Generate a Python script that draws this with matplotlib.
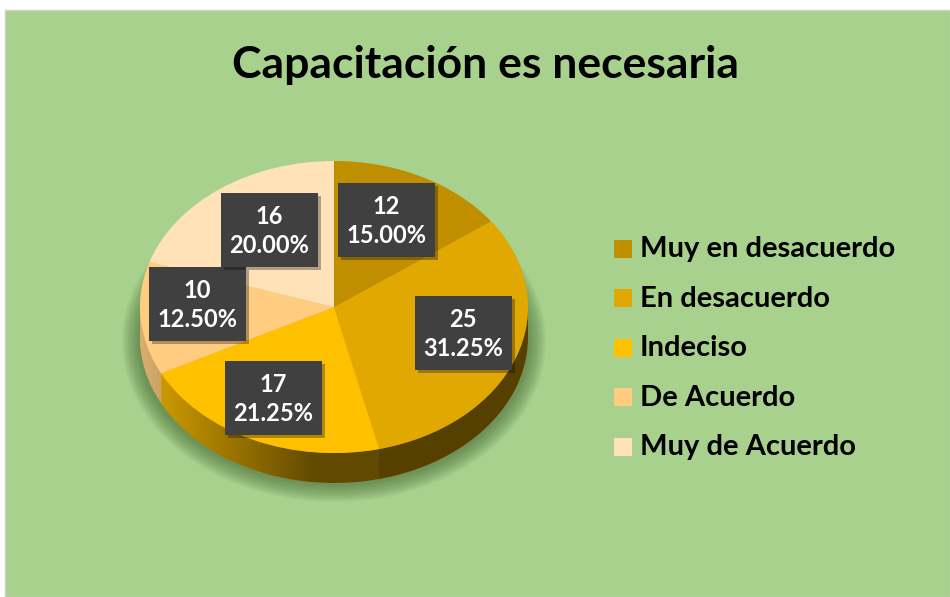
import numpy as np, matplotlib
matplotlib.use('Agg')
import matplotlib.pyplot as plt
from matplotlib.patches import Rectangle, Ellipse, Polygon
from matplotlib.colors import to_rgb

plt.rcParams.update({'font.family': ['Lato', 'DejaVu Sans'], 'font.weight': 'bold'})

title = 'Capacitación es necesaria'
categories = ['Muy en desacuerdo', 'En desacuerdo', 'Indeciso', 'De Acuerdo', 'Muy de Acuerdo']
counts = [12, 25, 17, 10, 16]
colors = ['#BF8F00', '#E0A800', '#FFC000', '#FFCC80', '#FFE2B8']

# layout (pixels)
label_xy = [(386, 220), (463, 333), (273, 398), (197, 304), (269, 230)]
W, H = 950, 597
BG = '#A9D18E'
cx, cy, rx, ry, depth = 334, 307, 194, 146, 30

fig = plt.figure(figsize=(W/100, H/100), dpi=100, facecolor='white')

def px_axes(x0, y0, x1, y1, z):
    return fig.add_axes([x0/W, 1-y1/H, (x1-x0)/W, (y1-y0)/H], zorder=z)

bg = px_axes(0, 0, W, H, 0)
bg.set_xlim(0, W); bg.set_ylim(H, 0); bg.axis('off')
bg.add_patch(Rectangle((5, 10), W-5, H-10, facecolor=BG, edgecolor='#D0D0D0', lw=1))
# soft shadow under the pie
for k in range(12):
    bg.add_patch(Ellipse((cx, cy+depth+4), 2*rx+36-k*3, 2*ry+30-k*3,
                         color='#3f5f2a', alpha=0.06, lw=0))

# pie: side made of stacked layers, then the top face
pa = px_axes(cx-rx, cy-ry, cx+rx, cy+ry+depth, 1)
dd = depth/ry
side = [tuple(np.array(to_rgb(c))*0.85) for c in colors]
for k in range(depth, 0, -1):
    pa.pie(counts, colors=side, startangle=90, counterclock=False,
           center=(0, -k/ry), wedgeprops=dict(lw=0, zorder=1))

t = np.linspace(np.pi, 2*np.pi, 200)
band = np.r_[np.c_[np.cos(t), np.sin(t)], np.c_[np.cos(t[::-1]), np.sin(t[::-1])-dd]]
clip = Polygon(band, closed=True, transform=pa.transData, fc='none', ec='none')
pa.add_patch(clip)
shade = np.zeros((1, 256, 4))
shade[..., 3] = np.clip((np.linspace(-1, 1, 256)+1)/0.9, 0, 1)*0.55
im = pa.imshow(shade, extent=(-1, 1, -1-dd, 0.1), aspect='auto', zorder=2, interpolation='bilinear')
im.set_clip_path(clip)

wedges, _ = pa.pie(counts, colors=colors, startangle=90, counterclock=False,
                   wedgeprops=dict(lw=0, zorder=3))
pa.set_aspect('auto'); pa.set_xlim(-1, 1); pa.set_ylim(-1-dd, 1); pa.axis('off')

# overlay: title, labels, legend
fg = px_axes(0, 0, W, H, 3)
fg.set_xlim(0, W); fg.set_ylim(H, 0); fg.axis('off'); fg.patch.set_alpha(0)
fg.text(485, 78, title, ha='center', va='baseline', fontsize=32, fontweight='bold', color='black')

total = sum(counts)
for (x, y), n in zip(label_xy, counts):
    fg.add_patch(Rectangle((x-48+3, y-37+3), 97, 74, fc='black', alpha=0.3, lw=0))
    fg.add_patch(Rectangle((x-48, y-37), 97, 74, fc='#404040', lw=0))
    fg.text(x, y+1, f'{n}\n{n/total*100:.2f}%', ha='center', va='center', color='white',
            fontsize=17, fontweight='bold', linespacing=1.35)

for i, (cat, c) in enumerate(zip(categories, colors)):
    yy = 248.5 + 49.6*i
    fg.add_patch(Rectangle((614, yy-9), 18, 18, fc=c, lw=0))
    fg.text(640, yy+8.5, cat, ha='left', va='baseline', fontsize=21, fontweight='bold', color='black')

fig.savefig('out.png', dpi=100, facecolor='white')
